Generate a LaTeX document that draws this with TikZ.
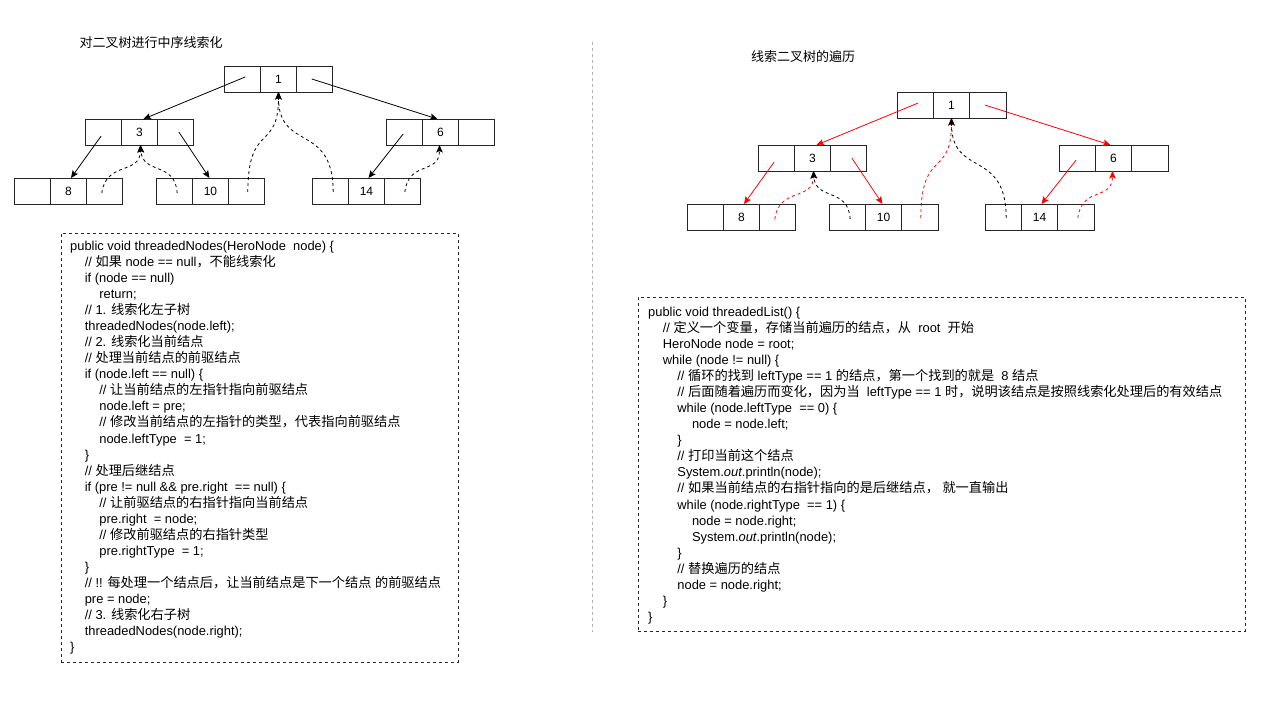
\documentclass[tikz,border=0pt]{standalone}
\usepackage{fontspec}
\setmainfont{Liberation Sans}
\newfontfamily\zhfont{Noto Sans CJK SC}
\usetikzlibrary{arrows.meta,calc}
\newcommand\zh[1]{{\zhfont\fontsize{13.2}{16.04}\selectfont #1}}
\newcommand\ia{\hspace*{14.6pt}}
\newcommand\ib{\hspace*{29.2pt}}
\newcommand\ic{\hspace*{43.8pt}}
\definecolor{threadred}{HTML}{FF0000}
\definecolor{sepgray}{HTML}{B3B3B3}

% one tree node: three cells side by side, value in the middle one
\newcommand\treenode[4]{%
  \node[cell, anchor=north west] (#1l) at (#2,#3) {};
  \node[cell, anchor=west] (#1m) at (#1l.east) {#4};
  \node[cell, anchor=west] (#1r) at (#1m.east) {};
}

\tikzset{
  cell/.style={draw=black!85, line width=1pt, minimum width=36.33pt, minimum height=26pt,
    inner sep=0pt, outer sep=0pt, font=\fontsize{12}{14}\selectfont},
  link/.style={line width=0.8pt, -{Stealth[length=7.5pt,width=6.5pt,inset=1.5pt]}},
  thread/.style={link, dash pattern=on 3pt off 3pt},
  codebox/.style={draw=black!85, line width=0.8pt, dash pattern=on 3pt off 3pt,
    inner sep=0pt, outer sep=0pt, anchor=north west},
  codetext/.style={align=left, inner sep=0pt, anchor=north west,
    font=\fontsize{12.9}{16.04}\selectfont},
  heading/.style={font=\zhfont\fontsize{13}{14}\selectfont, inner sep=0pt},
}

\begin{document}
\begin{tikzpicture}[x=1pt, y=-1pt]
\useasboundingbox (0,0) rectangle (1280,720);
\fill[white] (0,0) rectangle (1280,720);

% ---------- left half: threading the tree in order ----------
\node[heading] (titleL) at (151,43) {对二叉树进行中序线索化};

\treenode{a1}{224}{66}{1}
\treenode{a3}{85}{119}{3}
\treenode{a6}{386}{119}{6}
\treenode{a8}{14}{178}{8}
\treenode{a10}{156}{178}{10}
\treenode{a14}{312}{178}{14}

\draw[link] ($(a1l.center)+(3,-2)$) -- ($(a3m.north)+(4,0)$);
\draw[link] ($(a1r.center)+(-3,0)$) -- ($(a6m.north)+(-3,0)$);
\draw[link] ($(a3l.center)+(-2,4)$) -- ($(a8m.north)+(2.5,0)$);
\draw[link] ($(a3r.center)+(3,0)$) -- ($(a10m.north)+(-1,0)$);
\draw[link] ($(a6l.center)+(-1,2)$) -- ($(a14m.north)+(2,0)$);

\draw[thread] ($(a8r.center)+(-3,2)$) .. controls +(4,-32) and +(0,30) .. ($(a3m.south)+(1,0)$);
\draw[thread] ($(a10l.center)+(3,2)$) .. controls +(-2,-32) and +(2,30) .. ($(a3m.south)+(1,0)$);
\draw[thread] ($(a10r.center)+(1,1)$) .. controls +(0,-70) and +(0,60) .. ($(a1m.south)+(0,0)$);
\draw[thread] ($(a14l.center)+(3,1)$) .. controls +(0,-70) and +(0,60) .. ($(a1m.south)+(0,0)$);
\draw[thread] ($(a14r.center)+(2,1)$) .. controls +(4,-32) and +(0,30) .. ($(a6m.south)+(-1,0)$);

% code of the threading routine
\node[codebox, minimum width=397pt, minimum height=429pt] (boxL) at (61,233) {};
\node[codetext] (codeL) at ($(boxL.north west)+(9,8)$) {%
public void threadedNodes(HeroNode\ \ node) \{\\
\ia// \zh{如果} node == null\zh{，不能线索化}\\
\ia if (node == null)\\
\ib return;\\
\ia// 1. \zh{线索化左子树}\\
\ia threadedNodes(node.left);\\
\ia// 2. \zh{线索化当前结点}\\
\ia// \zh{处理当前结点的前驱结点}\\
\ia if (node.left == null) \{\\
\ib// \zh{让当前结点的左指针指向前驱结点}\\
\ib node.left = pre;\\
\ib// \zh{修改当前结点的左指针的类型，代表指向前驱结点}\\
\ib node.leftType\ \ = 1;\\
\ia\}\\
\ia// \zh{处理后继结点}\\
\ia if (pre != null \&\& pre.right\ \ == null) \{\\
\ib// \zh{让前驱结点的右指针指向当前结点}\\
\ib pre.right\ \ = node;\\
\ib// \zh{修改前驱结点的右指针类型}\\
\ib pre.rightType\ \ = 1;\\
\ia\}\\
\ia// !! \zh{每处理一个结点后，让当前结点是下一个结点} \zh{的前驱结点}\\
\ia pre = node;\\
\ia// 3. \zh{线索化右子树}\\
\ia threadedNodes(node.right);\\
\}};

% separator between the two halves
\draw[sepgray, line width=0.8pt, dash pattern=on 3pt off 3pt] (592,42) -- (592,632);

% ---------- right half: walking the threaded tree ----------
\node[heading] (titleR) at (803,57) {线索二叉树的遍历};

\treenode{b1}{897}{92}{1}
\treenode{b3}{758}{145}{3}
\treenode{b6}{1059}{145}{6}
\treenode{b8}{687}{204}{8}
\treenode{b10}{829}{204}{10}
\treenode{b14}{985}{204}{14}

\begin{scope}[threadred]
\draw[link] ($(b1l.center)+(3,-2)$) -- ($(b3m.north)+(4,0)$);
\draw[link] ($(b1r.center)+(-3,0)$) -- ($(b6m.north)+(-3,0)$);
\draw[link] ($(b3l.center)+(-2,4)$) -- ($(b8m.north)+(2.5,0)$);
\draw[link] ($(b3r.center)+(3,0)$) -- ($(b10m.north)+(-1,0)$);
\draw[link] ($(b6l.center)+(-1,2)$) -- ($(b14m.north)+(2,0)$);
\draw[thread] ($(b8r.center)+(-3,2)$) .. controls +(4,-32) and +(0,30) .. ($(b3m.south)+(1,0)$);
\draw[thread] ($(b10r.center)+(1,1)$) .. controls +(0,-70) and +(0,60) .. ($(b1m.south)+(0,0)$);
\draw[thread] ($(b14r.center)+(2,1)$) .. controls +(4,-32) and +(0,30) .. ($(b6m.south)+(-1,0)$);
\end{scope}
\draw[thread] ($(b10l.center)+(3,2)$) .. controls +(-2,-32) and +(2,30) .. ($(b3m.south)+(1,0)$);
\draw[thread] ($(b14l.center)+(3,1)$) .. controls +(0,-70) and +(0,60) .. ($(b1m.south)+(0,0)$);

% code of the traversal routine
\node[codebox, minimum width=607pt, minimum height=334pt] (boxR) at (638,297) {};
\node[codetext] (codeR) at ($(boxR.north west)+(10,10)$) {%
public void threadedList() \{\\
\ia// \zh{定义一个变量，存储当前遍历的结点，从}\ \ root\ \ \zh{开始}\\
\ia HeroNode node = root;\\
\ia while (node != null) \{\\
\ib// \zh{循环的找到}\ leftType == 1 \zh{的结点，第一个找到的就是}\ \ 8 \zh{结点}\\
\ib// \zh{后面随着遍历而变化，因为当}\ \ leftType == 1 \zh{时，说明该结点是按照线索化处理后的有效结点}\\
\ib while (node.leftType\ \ == 0) \{\\
\ic node = node.left;\\
\ib\}\\
\ib// \zh{打印当前这个结点}\\
\ib System.\textit{out}.println(node);\\
\ib// \zh{如果当前结点的右指针指向的是后继结点，}\ \zh{就一直输出}\\
\ib while (node.rightType\ \ == 1) \{\\
\ic node = node.right;\\
\ic System.\textit{out}.println(node);\\
\ib\}\\
\ib// \zh{替换遍历的结点}\\
\ib node = node.right;\\
\ia\}\\
\}};
\end{tikzpicture}
\end{document}
